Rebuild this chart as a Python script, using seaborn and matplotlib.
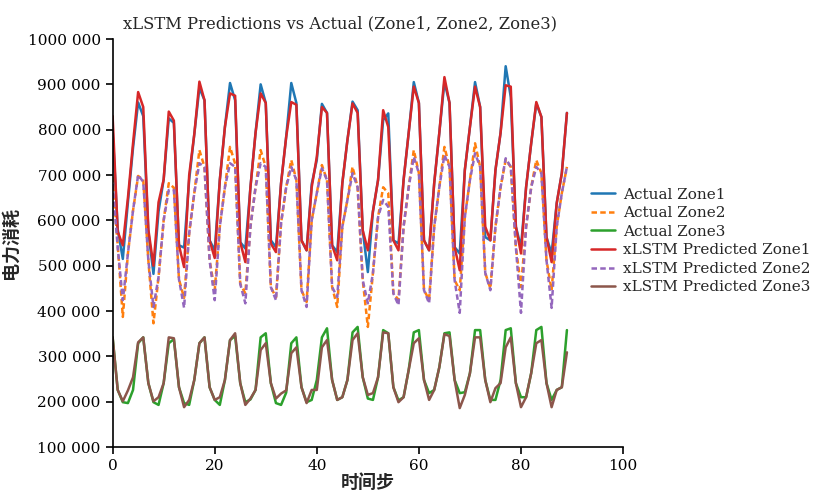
import numpy as np
import pandas as pd
import matplotlib
matplotlib.use("Agg")
import matplotlib.pyplot as plt
from matplotlib.ticker import FuncFormatter
import seaborn as sns

# data
steps = list(range(90))

actual_zone1 = [800000, 580000, 515000, 640000, 760000, 860000, 830000, 575000, 482000, 620000,
                690000, 825000, 815000, 545000, 540000, 690000, 790000, 892000, 865000, 556000,
                534000, 689000, 806000, 903000, 865000, 552000, 538000, 673000, 793000, 900000,
                859000, 556000, 541000, 682000, 784000, 903000, 859000, 556000, 534000, 680000,
                733000, 857000, 837000, 545000, 530000, 682000, 777000, 862000, 843000, 578000,
                486000, 620000, 689000, 821000, 836000, 556000, 549000, 689000, 793000, 905000,
                859000, 556000, 534000, 682000, 793000, 905000, 859000, 541000, 527000, 711000,
                806000, 905000, 850000, 563000, 556000, 711000, 793000, 940000, 872000, 586000,
                541000, 673000, 770000, 858000, 828000, 563000, 527000, 638000, 704000, 837000]

actual_zone2 = [696000, 545000, 387000, 527000, 622000, 698000, 689000, 512000, 373000, 475000,
                600000, 682000, 672000, 470000, 429000, 572000, 660000, 755000, 718000, 512000,
                446000, 586000, 673000, 762000, 725000, 460000, 439000, 586000, 673000, 755000,
                718000, 453000, 430000, 594000, 673000, 733000, 689000, 446000, 420000, 600000,
                660000, 722000, 689000, 453000, 409000, 586000, 645000, 718000, 673000, 468000,
                365000, 484000, 607000, 673000, 660000, 439000, 425000, 586000, 673000, 755000,
                704000, 446000, 425000, 586000, 673000, 762000, 718000, 468000, 446000, 607000,
                689000, 770000, 718000, 484000, 450000, 586000, 673000, 733000, 718000, 541000,
                453000, 586000, 673000, 733000, 704000, 512000, 446000, 586000, 660000, 718000]

actual_zone3 = [342000, 226000, 199000, 197000, 226000, 329000, 342000, 241000, 199000, 193000,
                241000, 329000, 338000, 232000, 197000, 193000, 248000, 329000, 342000, 232000,
                204000, 193000, 248000, 336000, 345000, 241000, 199000, 205000, 226000, 342000,
                351000, 241000, 197000, 193000, 220000, 329000, 342000, 232000, 199000, 204000,
                248000, 342000, 362000, 248000, 204000, 210000, 248000, 353000, 365000, 254000,
                207000, 204000, 254000, 358000, 351000, 232000, 203000, 210000, 270000, 353000,
                358000, 248000, 219000, 226000, 276000, 351000, 353000, 248000, 219000, 221000,
                263000, 358000, 358000, 248000, 204000, 204000, 248000, 358000, 362000, 241000,
                210000, 210000, 263000, 358000, 365000, 241000, 204000, 226000, 232000, 358000]

pred_zone1 = [830000, 575000, 545000, 650000, 770000, 883000, 850000, 580000, 500000, 640000,
              690000, 840000, 820000, 545000, 497000, 700000, 790000, 906000, 865000, 556000,
              517000, 689000, 806000, 880000, 875000, 552000, 508000, 673000, 793000, 880000,
              859000, 549000, 530000, 682000, 784000, 861000, 855000, 556000, 534000, 673000,
              740000, 850000, 837000, 545000, 512000, 682000, 777000, 858000, 837000, 578000,
              534000, 620000, 689000, 843000, 806000, 556000, 534000, 689000, 793000, 895000,
              859000, 556000, 534000, 682000, 793000, 916000, 859000, 541000, 490000, 711000,
              806000, 895000, 850000, 586000, 556000, 711000, 793000, 898000, 895000, 586000,
              527000, 673000, 770000, 861000, 828000, 563000, 508000, 638000, 704000, 837000]

pred_zone2 = [680000, 540000, 424000, 527000, 622000, 700000, 685000, 512000, 409000, 475000,
              600000, 667000, 667000, 470000, 407000, 572000, 660000, 726000, 718000, 512000,
              424000, 586000, 673000, 726000, 718000, 460000, 417000, 586000, 673000, 726000,
              718000, 453000, 424000, 594000, 673000, 718000, 689000, 446000, 409000, 600000,
              660000, 715000, 689000, 453000, 431000, 586000, 645000, 704000, 673000, 468000,
              417000, 484000, 607000, 645000, 630000, 439000, 413000, 586000, 673000, 740000,
              704000, 446000, 417000, 586000, 673000, 744000, 718000, 468000, 396000, 607000,
              689000, 748000, 718000, 484000, 446000, 586000, 673000, 737000, 718000, 541000,
              396000, 586000, 673000, 718000, 704000, 512000, 407000, 586000, 660000, 718000]

pred_zone3 = [342000, 226000, 201000, 225000, 254000, 331000, 342000, 241000, 201000, 210000,
              241000, 342000, 340000, 232000, 188000, 204000, 248000, 329000, 342000, 232000,
              204000, 210000, 248000, 336000, 351000, 241000, 193000, 207000, 226000, 314000,
              329000, 241000, 207000, 218000, 225000, 307000, 320000, 232000, 197000, 226000,
              226000, 320000, 336000, 248000, 204000, 210000, 248000, 336000, 351000, 254000,
              215000, 219000, 254000, 353000, 351000, 232000, 199000, 210000, 270000, 329000,
              340000, 248000, 204000, 226000, 276000, 349000, 345000, 248000, 186000, 215000,
              263000, 342000, 342000, 248000, 199000, 230000, 241000, 320000, 342000, 241000,
              188000, 210000, 263000, 329000, 336000, 241000, 188000, 226000, 232000, 309000]

series_names = ["Actual Zone1", "Actual Zone2", "Actual Zone3",
                "xLSTM Predicted Zone1", "xLSTM Predicted Zone2", "xLSTM Predicted Zone3"]
series_values = [actual_zone1, actual_zone2, actual_zone3, pred_zone1, pred_zone2, pred_zone3]
series_colors = ["#1f77b4", "#ff7f0e", "#2ca02c", "#d62728", "#9467bd", "#8c564b"]
series_dashed = [False, True, False, False, True, False]

sns.set_style("ticks")
plt.rcParams['font.family'] = ['DejaVu Serif', 'Noto Sans CJK SC']

fig, ax = plt.subplots(figsize=(8.22, 4.94), dpi=100)
fig.subplots_adjust(left=0.137, right=0.758, bottom=0.095, top=0.921)

for name, vals, col, dashed in zip(series_names, series_values, series_colors, series_dashed):
    line_kw = {"dashes": (2.2, 1.3)} if dashed else {}
    sns.lineplot(x=steps, y=vals, ax=ax, color=col, linewidth=1.8, label=name, **line_kw)

ax.set_xlim(0, 100)
ax.set_ylim(100000, 1000000)
ax.set_xticks([0, 20, 40, 60, 80, 100])
ax.set_yticks(range(100000, 1000001, 100000))
ax.yaxis.set_major_formatter(FuncFormatter(lambda v, p: f"{int(v) // 1000} 000"))
ax.tick_params(labelsize=11, direction="out", length=5, width=1.2, colors="black")
for s in ["left", "bottom"]:
    ax.spines[s].set_linewidth(1.2)
    ax.spines[s].set_color("black")
sns.despine(ax=ax)

ax.set_title("xLSTM Predictions vs Actual (Zone1, Zone2, Zone3)", fontsize=11.8, x=0.445, pad=8)
ax.set_xlabel("时间步", fontsize=13, fontweight="bold", labelpad=1)
ax.set_ylabel("电力消耗", fontsize=13, fontweight="bold", labelpad=6)

ax.legend(loc="center left", bbox_to_anchor=(0.925, 0.505), frameon=False, fontsize=11,
          handlelength=1.6, handletextpad=0.5, labelspacing=0.3, borderaxespad=0)

plt.savefig("out.png", dpi=100)
